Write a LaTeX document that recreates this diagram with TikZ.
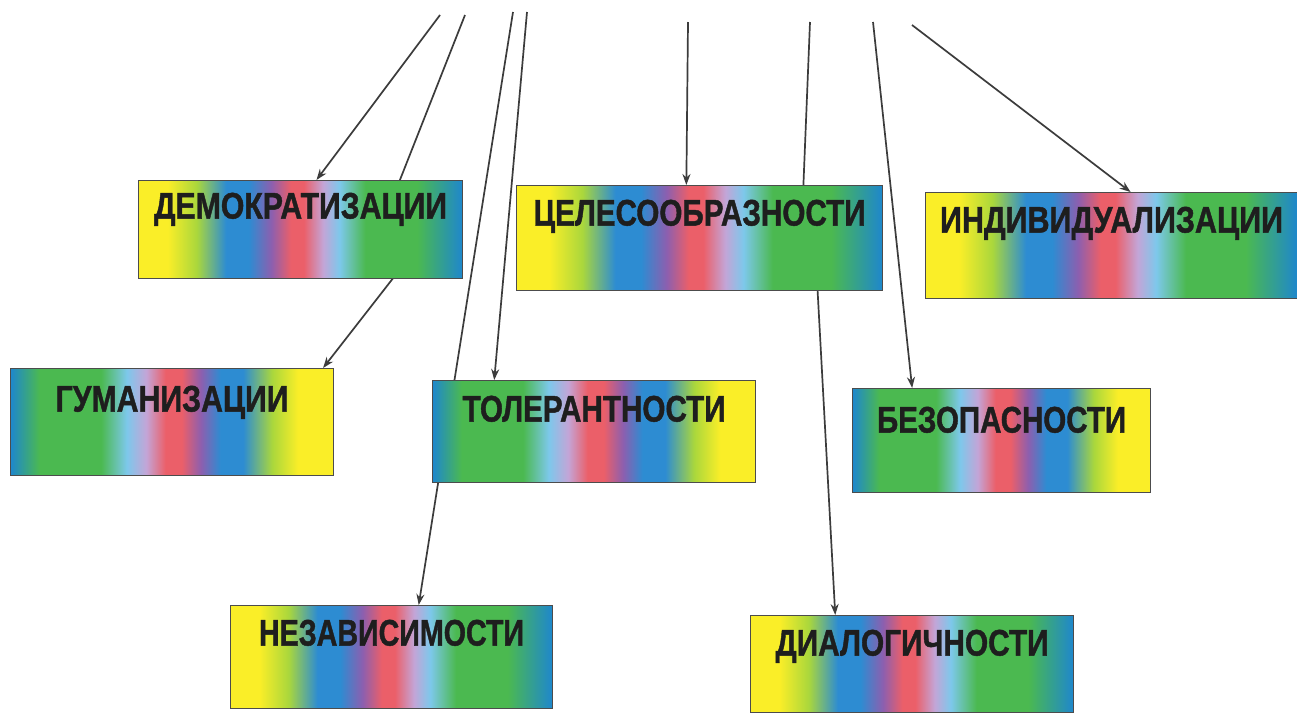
\documentclass[tikz,border=0pt]{standalone}
\usepackage{fontspec}
\setmainfont{Liberation Sans}
\newfontfamily\heavyfont{Liberation Sans}[BoldFeatures={FakeBold=1.3}]
\usetikzlibrary{arrows.meta,calc}
\pgfdeclarelayer{bg}
\pgfsetlayers{bg,main}
\definecolor{cY}{RGB}{250,238,40}
\definecolor{cYG}{RGB}{170,215,60}
\definecolor{cBL}{RGB}{45,140,210}
\definecolor{cPU}{RGB}{140,95,175}
\definecolor{cRD}{RGB}{235,95,105}
\definecolor{cPK}{RGB}{195,165,215}
\definecolor{cLB}{RGB}{125,200,235}
\definecolor{cGR}{RGB}{75,185,80}
\definecolor{cTB}{RGB}{30,135,205}
\definecolor{ink}{RGB}{30,30,30}
\definecolor{wire}{RGB}{60,60,60}
\pgfdeclarehorizontalshading{fwdrain}{100bp}{color(0bp)=(cY); color(25bp)=(cY); color(29.5bp)=(cY); color(34bp)=(cYG); color(38.5bp)=(cBL); color(42bp)=(cBL); color(45.5bp)=(cPU); color(48.5bp)=(cRD); color(50.5bp)=(cRD); color(53.5bp)=(cPK); color(56bp)=(cLB); color(60bp)=(cGR); color(68bp)=(cGR); color(75bp)=(cTB); color(100bp)=(cTB)}
\pgfdeclarehorizontalshading{revrain}{100bp}{color(0bp)=(cTB); color(25bp)=(cTB); color(29.5bp)=(cGR); color(39bp)=(cGR); color(43bp)=(cLB); color(46bp)=(cPK); color(49bp)=(cRD); color(51.5bp)=(cRD); color(54.5bp)=(cPU); color(57.5bp)=(cBL); color(61bp)=(cBL); color(65.5bp)=(cYG); color(69.5bp)=(cY); color(75bp)=(cY); color(100bp)=(cY)}
\tikzset{
  rbox/.style={draw=black!70, line width=1.1pt, inner xsep=0pt, inner ysep=0pt,
    shade, shading angle=0, text=ink, anchor=north west,
    font=\fontsize{37}{40}\selectfont\heavyfont\bfseries},
  fwdbox/.style={rbox, shading=fwdrain},
  revbox/.style={rbox, shading=revrain},
  conn/.style={draw=wire, line width=1.7pt, -{Stealth[length=11pt,width=8pt]}}
}
\newcommand{\lbltxt}[2]{\resizebox{#1}{\height}{#2}}
\begin{document}
\begin{tikzpicture}[x=1pt,y=-1pt]
\useasboundingbox (0,0) rectangle (1297,716);
% boxes (north west corner, width, height)
\node[fwdbox, minimum width=324pt, text height=38pt, text depth=60pt] (dem) at (138,180) {\lbltxt{293pt}{ДЕМОКРАТИЗАЦИИ}};
\node[fwdbox, minimum width=366pt, text height=40pt, text depth=65pt] (cel) at (516,185) {\lbltxt{332pt}{ЦЕЛЕСООБРАЗНОСТИ}};
\node[fwdbox, minimum width=372pt, text height=40pt, text depth=66pt] (ind) at (925,192) {\lbltxt{343pt}{ИНДИВИДУАЛИЗАЦИИ}};
\node[revbox, minimum width=323pt, text height=43pt, text depth=64pt] (gum) at (10,368) {\lbltxt{233pt}{ГУМАНИЗАЦИИ}};
\node[revbox, minimum width=323pt, text height=41pt, text depth=61pt] (tol) at (432,380) {\lbltxt{263pt}{ТОЛЕРАНТНОСТИ}};
\node[revbox, minimum width=298pt, text height=44pt, text depth=60pt] (bez) at (852,388) {\lbltxt{249pt}{БЕЗОПАСНОСТИ}};
\node[fwdbox, minimum width=322pt, text height=40pt, text depth=63pt] (nez) at (230,605) {\lbltxt{265pt}{НЕЗАВИСИМОСТИ}};
\node[fwdbox, minimum width=323pt, text height=40pt, text depth=57pt] (dia) at (750,615) {\lbltxt{273pt}{ДИАЛОГИЧНОСТИ}};
% free ends at the top
\coordinate (ta) at (440,15);
\coordinate (tb) at (465,15);
\coordinate (tc) at (513,12);
\coordinate (td) at (527,12);
\coordinate (te) at (688,22);
\coordinate (tf) at (810,22);
\coordinate (tg) at (873,22);
\coordinate (th) at (912,25);
% hidden bends behind boxes
\coordinate (b1) at (394,195);
\coordinate (b2) at (401,268);
\coordinate (f1) at (803,195);
\coordinate (f2) at (817,280);
\begin{pgfonlayer}{bg}
\fill[white] (0,0) rectangle (1297,716);
\draw[conn] (ta) -- ($(dem.north west)!0.549!(dem.north east)$);
\draw[conn] (tb) -- (b1) -- (b2) -- ($(gum.north west)!0.966!(gum.north east)$);
\draw[conn] (tc) -- ($(nez.north west)!0.584!(nez.north east)$);
\draw[conn] (td) -- ($(tol.north west)!0.192!(tol.north east)$);
\draw[conn] (te) -- ($(cel.north west)!0.464!(cel.north east)$);
\draw[conn] (tf) -- (f1) -- (f2) -- ($(dia.north west)!0.263!(dia.north east)$);
\draw[conn] (tg) -- ($(bez.north west)!0.201!(bez.north east)$);
\draw[conn] (th) -- ($(ind.north west)!0.551!(ind.north east)$);
\end{pgfonlayer}
\end{tikzpicture}
\end{document}
